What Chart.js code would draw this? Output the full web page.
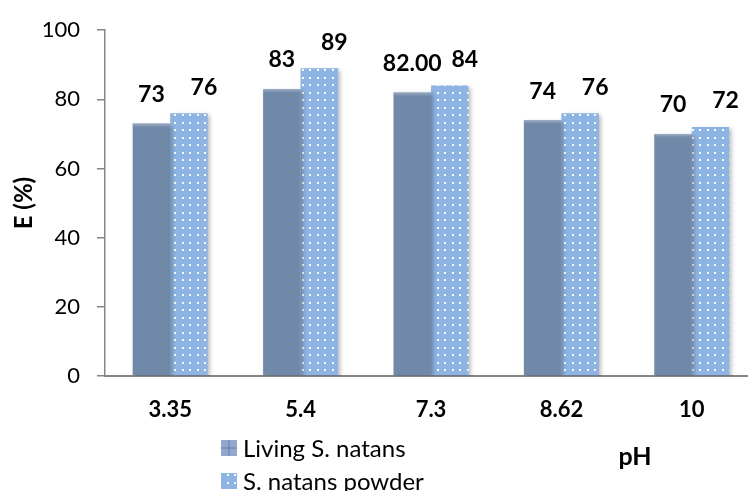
<!DOCTYPE html>
<html>
<head>
<meta charset="utf-8">
<script src="https://cdn.jsdelivr.net/npm/chart.js@4/dist/chart.umd.min.js"></script>
<style>
  html, body { margin: 0; padding: 0; background: #fff; overflow: hidden; }
  #wrap { width: 757px; height: 491px; }
</style>
</head>
<body>
<div id="wrap"><canvas id="c" width="757" height="491"></canvas></div>
<script>
// pH levels tested and removal efficiency E (%) for both biosorbent forms
const phLevels = ['3.35', '5.4', '7.3', '8.62', '10'];
const livingValues = [73, 83, 82, 74, 70];
const powderValues = [76, 89, 84, 76, 72];
// decimals shown in each value label
const livingDecimals = [0, 0, 2, 0, 0];
const powderDecimals = [0, 0, 0, 0, 0];
const yTickValues = [0, 20, 40, 60, 80, 100];

const FONT = 'Lato, "Open Sans", sans-serif';
const AXIS_GREY = '#868686';
const LIVING_COLOR = '#7189a8';
const POWDER_COLOR = '#8db4e2';

const canvas = document.getElementById('c');
const ctx = canvas.getContext('2d');

// white dot texture used for the powder bars
function makeDotPattern() {
  const t = document.createElement('canvas');
  t.width = 15; t.height = 15;
  const g = t.getContext('2d');
  g.fillStyle = POWDER_COLOR;
  g.fillRect(0, 0, 15, 15);
  g.fillStyle = 'rgba(255,255,255,0.95)';
  [[2, 2], [9, 2], [2, 9], [9, 9]].forEach(([x, y]) => g.fillRect(x, y, 2, 2));
  return ctx.createPattern(t, 'repeat');
}
const dotPattern = makeDotPattern();

// soft drop shadow behind the bars
const barShadow = {
  id: 'barShadow',
  beforeDatasetDraw(chart) {
    const c = chart.ctx;
    c.save();
    c.shadowColor = 'rgba(0,0,0,0.28)';
    c.shadowBlur = 4;
    c.shadowOffsetX = 2;
    c.shadowOffsetY = 2;
  },
  afterDatasetDraw(chart) {
    chart.ctx.restore();
  }
};

// slightly lighter rim along the top of the solid bars
const barRim = {
  id: 'barRim',
  afterDatasetDraw(chart, args) {
    if (args.index !== 0) return;
    const c = chart.ctx;
    c.save();
    args.meta.data.forEach(bar => {
      const w = bar.width;
      const g = c.createLinearGradient(0, bar.y, 0, bar.y + 5);
      g.addColorStop(0, 'rgba(170,185,205,0.9)');
      g.addColorStop(1, 'rgba(113,137,168,0)');
      c.fillStyle = g;
      c.fillRect(bar.x - w / 2, bar.y, w, 5);
    });
    c.restore();
  }
};

// value labels above each bar
const valueLabels = {
  id: 'valueLabels',
  afterDatasetsDraw(chart, args, opts) {
    const c = chart.ctx;
    c.save();
    c.font = 'bold 23px ' + FONT;
    c.fillStyle = '#000';
    c.textAlign = 'center';
    c.textBaseline = 'middle';
    chart.data.datasets.forEach((ds, i) => {
      const meta = chart.getDatasetMeta(i);
      const off = opts.offsets[i];
      meta.data.forEach((bar, j) => {
        const txt = Number(ds.data[j]).toFixed(ds.decimals[j]);
        c.fillText(txt, bar.x + off.dx, bar.y + off.dy);
      });
    });
    c.restore();
  }
};

// stacked legend under the axis plus the "pH" caption
const legendAndCaption = {
  id: 'legendAndCaption',
  afterDraw(chart, args, opts) {
    const c = chart.ctx;
    c.save();
    const x0 = opts.x, y0 = opts.y, step = opts.step, box = opts.box;
    chart.data.datasets.forEach((ds, i) => {
      const y = y0 + i * step;
      if (i === 0) {
        c.fillStyle = '#93a9cb';
        c.fillRect(x0, y, box, box);
        c.strokeStyle = '#5f7fae';
        c.lineWidth = 1;
        c.beginPath();
        c.moveTo(x0 + box / 2, y); c.lineTo(x0 + box / 2, y + box);
        c.moveTo(x0, y + box / 2); c.lineTo(x0 + box, y + box / 2);
        c.stroke();
      } else {
        c.fillStyle = dotPattern;
        c.fillRect(x0, y, box, box);
      }
      c.fillStyle = '#000';
      c.font = '24px ' + FONT;
      c.textAlign = 'left';
      c.textBaseline = 'middle';
      c.fillText(ds.label, x0 + box + 6, y + box / 2 + 1);
    });
    c.font = 'bold 25px ' + FONT;
    c.textAlign = 'center';
    c.textBaseline = 'middle';
    c.fillText(opts.caption, opts.captionX, opts.captionY);
    c.restore();
  }
};

new Chart(ctx, {
  type: 'bar',
  data: {
    labels: phLevels,
    datasets: [
      { label: 'Living S. natans', data: livingValues, decimals: livingDecimals,
        backgroundColor: LIVING_COLOR, borderWidth: 0 },
      { label: 'S. natans powder', data: powderValues, decimals: powderDecimals,
        backgroundColor: dotPattern, borderWidth: 0 }
    ]
  },
  options: {
    responsive: false,
    animation: false,
    events: [],
    layout: { padding: { top: 24, left: 0, right: 0, bottom: 0 } },
    datasets: { bar: { categoryPercentage: 0.575, barPercentage: 1.0 } },
    plugins: {
      legend: { display: false },
      tooltip: { enabled: false },
      valueLabels: { offsets: [{ dx: 0, dy: -29 }, { dx: 15, dy: -26 }] },
      legendAndCaption: { x: 221, y: 440, step: 33, box: 16,
        caption: 'pH', captionX: 635, captionY: 457 }
    },
    scales: {
      x: {
        grid: { display: false },
        border: { color: AXIS_GREY, width: 2 },
        ticks: { color: '#000', font: { family: FONT, size: 22, weight: 'bold' }, padding: 13 },
        afterFit(s) { s.height = 115; }
      },
      y: {
        min: 0, max: 100,
        afterBuildTicks(s) { s.ticks = yTickValues.map(v => ({ value: v })); },
        grid: { drawOnChartArea: false, color: AXIS_GREY, lineWidth: 1.5, tickLength: 8 },
        border: { color: AXIS_GREY, width: 1.5 },
        ticks: { color: '#000', font: { family: FONT, size: 22 }, padding: 17 },
        title: { display: true, text: 'E (%)', color: '#000',
          font: { family: FONT, size: 24, weight: 'bold' }, padding: { top: 10, bottom: 0 } },
        afterFit(s) { s.width = 105; }
      }
    }
  },
  plugins: [barShadow, barRim, valueLabels, legendAndCaption]
});
</script>
</body>
</html>
